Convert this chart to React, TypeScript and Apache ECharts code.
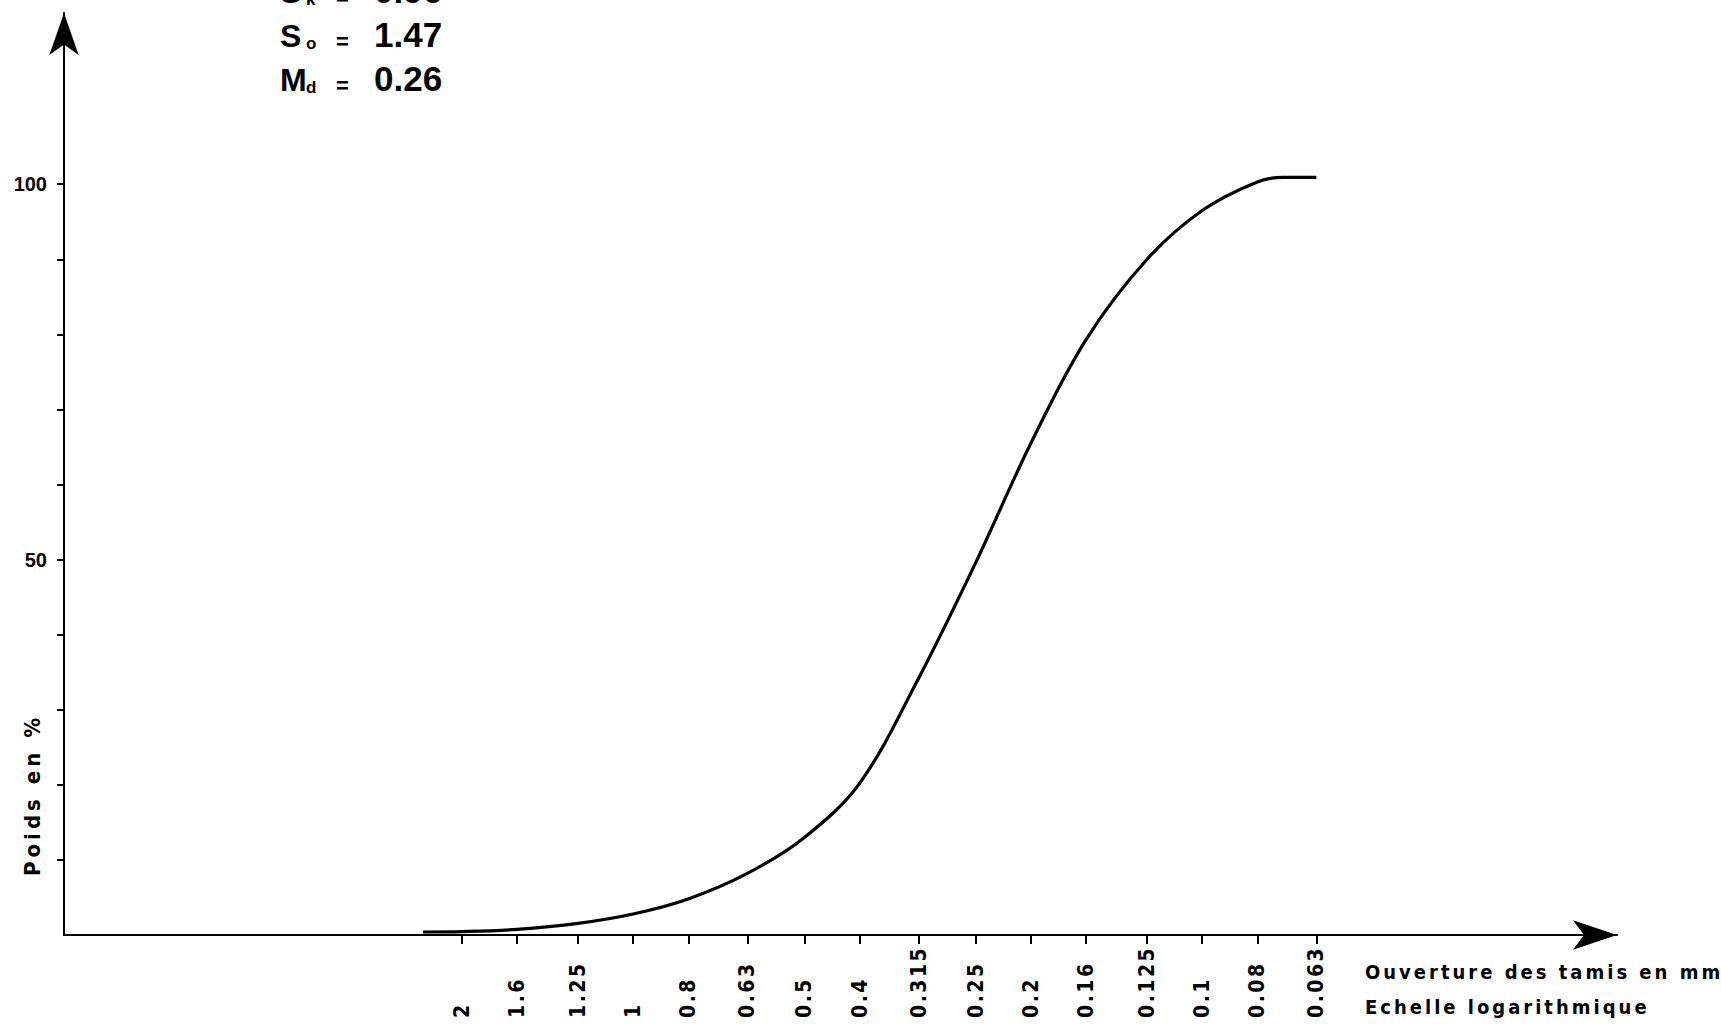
import React, { useEffect, useRef } from "react";
import * as echarts from "echarts";

// Sieve openings (mm), R10 series, shown on a reversed logarithmic scale
const sieveSizes = [2, 1.6, 1.25, 1, 0.8, 0.63, 0.5, 0.4, 0.315, 0.25, 0.2, 0.16, 0.125, 0.1, 0.08, 0.063];
const sieveLabels = ["2", "1.6", "1.25", "1", "0.8", "0.63", "0.5", "0.4", "0.315", "0.25", "0.2", "0.16", "0.125", "0.1", "0.08", "0.063"];

// Percentage axis ticks and labels
const percentTicks = [10, 20, 30, 40, 50, 60, 70, 80, 90, 100];
const percentLabels = [50, 100];

// Cumulative weight curve: opening (mm) -> cumulative weight (%)
const curveSizes = [2.34, 2, 1.6, 1.25, 1, 0.8, 0.63, 0.5, 0.4, 0.315, 0.25, 0.2, 0.16, 0.125, 0.1, 0.08, 0.072, 0.063];
const curveWeights = [0.4, 0.45, 0.75, 1.55, 2.8, 4.8, 8.2, 13.0, 20.2, 34.2, 49.6, 65.5, 79.3, 90.0, 96.5, 100.3, 100.9, 100.9];

// Trask parameters
const statSymbols = ["S", "S", "M"];
const statSubs = ["k", "o", "d"];
const statValues = ["0.96", "1.47", "0.26"];

const FONT_NARROW = "'Liberation Sans Narrow', 'DejaVu Sans Condensed', 'Liberation Sans', sans-serif";
const FONT_WIDE = "'Liberation Sans', Arial, sans-serif";

const css = `
.granulo text[style*="Narrow"] { letter-spacing: 2.5px; }
.granulo text[style*="Narrow"][style*="20px"] { letter-spacing: 3px; }
.granulo text[style*="Narrow"][style*="22px"] { letter-spacing: 4px; }
`;

function sieveLabel(v: number): string {
  const i = sieveSizes.findIndex((s) => Math.abs(s - v) / s < 1e-6);
  return i >= 0 ? sieveLabels[i] : "";
}

export default function App() {
  const ref = useRef<HTMLDivElement>(null);

  useEffect(() => {
    if (!ref.current) return;
    const chart = echarts.init(ref.current, null, { renderer: "svg" });

    const statTexts = statSymbols.map((sym, i) => ({
      type: "text",
      x: 280,
      y: -9 + i * 44,
      silent: true,
      style: {
        text: `{S|${sym}}{s|${statSubs[i]}}{e|=}{v|${statValues[i]}}`,
        align: "left",
        verticalAlign: "middle",
        fill: "#000",
        rich: {
          S: { fontSize: 32, fontWeight: "bold", fontFamily: FONT_WIDE, width: 26, lineHeight: 34, verticalAlign: "bottom" },
          s: { fontSize: 17, fontWeight: "bold", fontFamily: FONT_WIDE, width: 30, lineHeight: 34, verticalAlign: "bottom" },
          e: { fontSize: 22, fontWeight: "bold", fontFamily: FONT_WIDE, width: 38, lineHeight: 34, verticalAlign: "bottom" },
          v: { fontSize: 35, fontWeight: "bold", fontFamily: FONT_WIDE, lineHeight: 34, verticalAlign: "bottom" },
        },
      },
    }));

    chart.setOption({
      animation: false,
      backgroundColor: "#fff",
      grid: { left: 64, right: 104, top: 13, bottom: 94, outerBoundsMode: "none" },
      xAxis: {
        type: "log",
        logBase: 10,
        min: 0.01867,
        max: 10,
        inverse: true,
        splitLine: { show: false },
        minorTick: { show: false },
        axisLine: {
          show: true,
          onZero: false,
          lineStyle: { color: "#000", width: 2 },
          symbol: ["none", "arrow"],
          symbolSize: [22, 44],
        },
        axisTick: { show: true, length: 9, lineStyle: { color: "#000", width: 2 }, customValues: sieveSizes },
        axisLabel: {
          customValues: sieveSizes,
          formatter: (v: number) => sieveLabel(v),
          rotate: 90,
          align: "left",
          verticalAlign: "middle",
          margin: 83,
          fontSize: 21,
          fontWeight: "bold",
          fontFamily: FONT_NARROW,
          color: "#000",
        },
      },
      yAxis: {
        type: "value",
        min: 0,
        max: 122.8,
        interval: 10,
        splitLine: { show: false },
        axisLine: {
          show: true,
          onZero: false,
          lineStyle: { color: "#000", width: 2 },
          symbol: ["none", "arrow"],
          symbolSize: [22, 42],
        },
        axisTick: { show: true, length: 7, lineStyle: { color: "#000", width: 2 }, customValues: percentTicks },
        axisLabel: {
          customValues: percentLabels,
          margin: 17,
          fontSize: 20,
          fontWeight: "bold",
          fontFamily: FONT_WIDE,
          color: "#000",
        },
      },
      series: [
        {
          type: "line",
          data: curveSizes.map((s, i) => [s, curveWeights[i]]),
          smooth: 0.35,
          symbol: "none",
          showSymbol: false,
          silent: true,
          lineStyle: { color: "#000", width: 3.2 },
        },
      ],
      graphic: [
        ...statTexts,
        {
          type: "text",
          x: 32,
          y: 795,
          rotation: Math.PI / 2,
          silent: true,
          style: {
            text: "Poids en %",
            align: "center",
            verticalAlign: "middle",
            fontSize: 22,
            fontWeight: "bold",
            fontFamily: FONT_NARROW,
            fill: "#000",
          },
        },
        {
          type: "text",
          x: 1365,
          y: 972,
          silent: true,
          style: {
            text: "Ouverture des tamis en mm",
            align: "left",
            verticalAlign: "middle",
            fontSize: 20,
            fontWeight: "bold",
            fontFamily: FONT_NARROW,
            fill: "#000",
          },
        },
        {
          type: "text",
          x: 1365,
          y: 1007,
          silent: true,
          style: {
            text: "Echelle logarithmique",
            align: "left",
            verticalAlign: "middle",
            fontSize: 20,
            fontWeight: "bold",
            fontFamily: FONT_NARROW,
            fill: "#000",
          },
        },
      ],
    });

    return () => chart.dispose();
  }, []);

  return (
    <>
      <style>{css}</style>
      <div
        ref={ref}
        className="granulo"
        style={{ position: "fixed", left: 0, top: 0, width: 1721, height: 1029, background: "#fff" }}
      />
    </>
  );
}
